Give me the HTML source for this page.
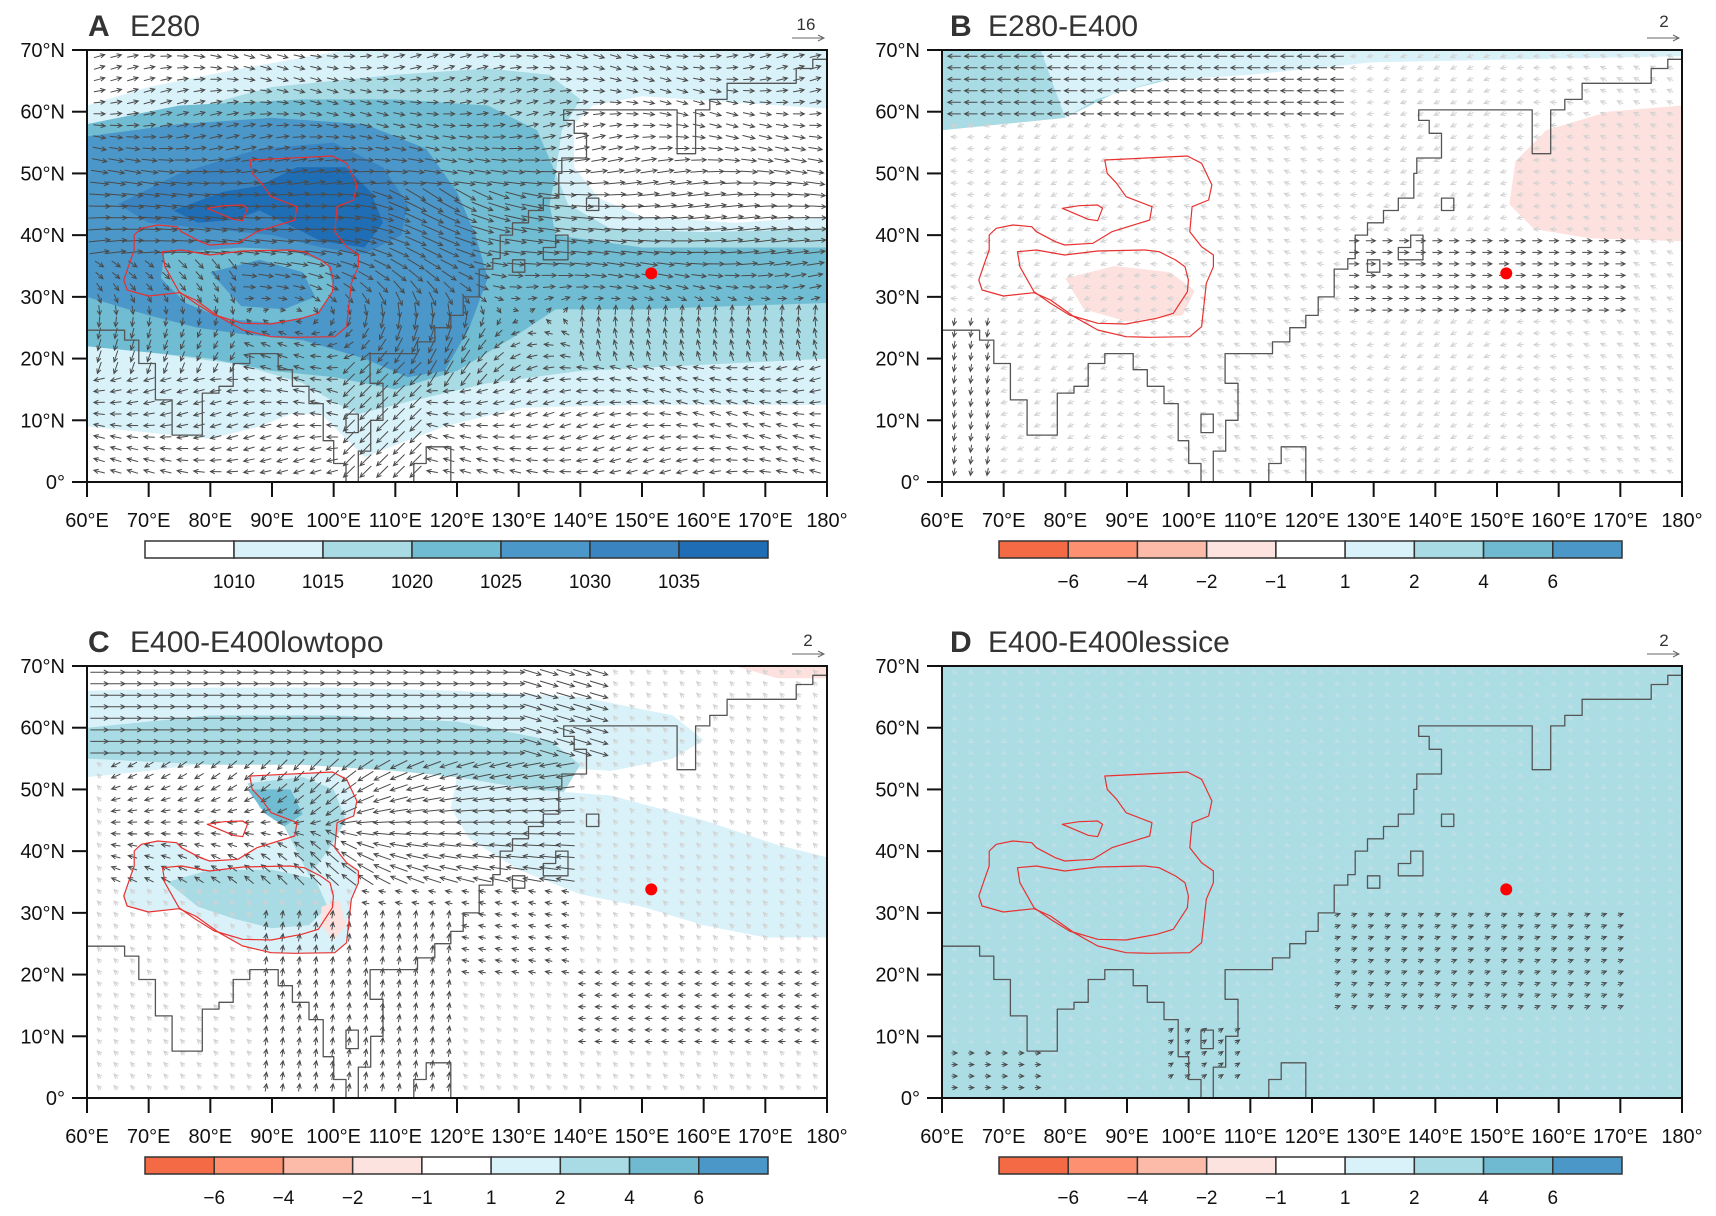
<!DOCTYPE html>
<html><head><meta charset="utf-8"><style>
html,body{margin:0;padding:0;background:#fff;}
svg{display:block;font-family:"Liberation Sans",Arial,sans-serif;}
</style></head><body>
<svg id="s" width="1716" height="1216" xmlns="http://www.w3.org/2000/svg">
<text x="88" y="36" font-size="30" font-weight="bold" fill="#333">A</text><text x="130" y="36" font-size="30" fill="#333">E280</text>
<text x="950" y="36" font-size="30" font-weight="bold" fill="#333">B</text><text x="988" y="36" font-size="30" fill="#333">E280-E400</text>
<text x="88" y="652" font-size="30" font-weight="bold" fill="#333">C</text><text x="130" y="652" font-size="30" fill="#333">E400-E400lowtopo</text>
<text x="950" y="652" font-size="30" font-weight="bold" fill="#333">D</text><text x="988" y="652" font-size="30" fill="#333">E400-E400lessice</text>
<text x="806" y="30" font-size="17" text-anchor="middle" fill="#333">16</text>
<text x="1664" y="27" font-size="17" text-anchor="middle" fill="#333">2</text>
<text x="808" y="646" font-size="17" text-anchor="middle" fill="#333">2</text>
<text x="1664" y="646" font-size="17" text-anchor="middle" fill="#333">2</text>
</svg>
<script>
var S=document.getElementById('s'),NS='http://www.w3.org/2000/svg';
function el(t,a,txt){var e=document.createElementNS(NS,t);for(var k in a)e.setAttribute(k,a[k]);if(txt!==undefined)e.textContent=txt;S.appendChild(e);return e;}
var P=[{x:87,y:50},{x:942,y:50},{x:87,y:666},{x:942,y:666}],W=740,H=432,kx=W/120,ky=H/70;
function X(p,lon){return p.x+(lon-60)*kx;}function Y(p,lat){return p.y+(70-lat)*ky;}
function poly(p,pts,fill,stroke,sw,closed){var d='';pts.forEach(function(q,i){d+=(i?'L':'M')+X(p,q[0]).toFixed(1)+' '+Y(p,q[1]).toFixed(1);});if(closed!==false)d+='Z';
 el('path',{d:d,fill:fill||'none',stroke:stroke||'none','stroke-width':sw||1,'stroke-linejoin':'round','clip-path':'url(#c'+P.indexOf(p)+')'});}
var defs=el('defs',{});
P.forEach(function(p,i){var c=document.createElementNS(NS,'clipPath');c.setAttribute('id','c'+i);var r=document.createElementNS(NS,'rect');r.setAttribute('x',p.x);r.setAttribute('y',p.y);r.setAttribute('width',W);r.setAttribute('height',H);c.appendChild(r);defs.appendChild(c);});
var L1='#d9f2fa',L2='#a8dbe4',L3='#70bcd2',L4='#4b97c9',L5='#3a85c1',L6='#1f6db4',PK='#fde1de';
function cv(a){return a.map(function(q){return [60+q[0]*120/1568,70-q[1]*70/1296];});}
var rOut=cv([[345,330],[520,318],[550,340],[572,405],[565,450],[530,470],[525,545],[550,590],[575,615],[575,650],[560,700],[550,830],[525,860],[440,862],[390,860],[330,840],[280,800],[230,750],[195,728],[130,738],[85,720],[78,690],[90,640],[100,600],[100,555],[115,535],[150,525],[190,530],[200,545],[240,575],[260,585],[320,580],[360,545],[440,510],[445,470],[390,440],[370,400],[350,370]]);
var rIn=cv([[160,605],[200,600],[260,615],[330,603],[430,600],[460,605],[495,630],[515,650],[522,690],[520,725],[490,790],[455,805],[390,822],[330,820],[270,795],[230,760],[195,725],[165,650]]);
var rSm=cv([[255,475],[290,467],[330,465],[340,475],[330,512],[310,508]]);
// Panel A
var p=P[0];
poly(p,[[60,0],[180,0],[180,70],[60,70]],L1);
poly(p,[[60,70],[102,70],[85,67],[70,64],[60,61]],'#fff');
poly(p,[[139,58],[142,61],[150,62.5],[165,61.5],[180,60.5],[180,43],[165,42],[150,43],[143,46],[139,51]],'#fff');
poly(p,[[60,0],[60,9],[70,8],[80,7],[88,9],[93,11],[98,11],[101,8],[105,4],[110,6],[118,9],[130,12],[150,12.5],[180,12.5],[180,0]],'#fff');
poly(p,[[60,55],[75,60],[90,64],[110,66],[125,67],[135,66],[140,62],[137,57],[136,50],[138,45],[145,41],[160,40.5],[180,41],[180,20],[160,19],[140,18],[125,16],[112,13],[104,11],[100,13],[95,16],[85,19],[70,21],[60,22]],L2);
poly(p,[[60,58],[75,61],[95,62],[110,62],[125,61],[133,57],[136,50],[135,45],[136,40],[150,38],[180,38],[180,29],[150,28],[136,28],[130,24],[120,18],[110,15],[100,17],[90,18],[80,20],[70,21],[60,22]],L3);
poly(p,[[60,56],[75,58],[90,59],[105,58],[115,54],[120,47],[123,40],[125,33],[122,25],[118,18],[112,17],[105,20],[95,23],[85,24],[78,25],[70,27],[60,30]],L4);
poly(p,[[65,45],[75,50],[88,54],[100,55],[108,51],[112,45],[111,40],[105,37],[98,38],[90,40],[80,41],[70,42]],L5);
poly(p,[[74,44],[82,47],[88,48],[94,51],[102,51],[106,47],[108,42],[105,38],[98,39],[92,42],[88,44],[84,42.5],[78,42]],L6);
poly(p,[[72.5,37],[78,37.5],[85,38],[93,37.6],[99,35.5],[100,31],[97,27],[90,25.8],[82,26.5],[76,29],[72,33]],L3);
poly(p,[[80,34],[88,36],[95,34],[97,30],[92,28],[85,28.5]],L4);
// Panel B
p=P[1];
poly(p,[[60,70],[135,70],[120,68],[100,66],[88,63],[80,59],[60,57]],L2);
poly(p,[[76,70],[180,70],[180,69],[130,68],[110,66],[95,65],[85,62],[80,59]],L1);
poly(p,[[180,61],[168,60],[158,57],[153,52],[152,45],[156,41],[165,39.5],[180,39]],PK);
poly(p,[[80,33],[88,35],[97,34],[101,31],[99,27],[90,26],[83,28]],PK);
// Panel C
p=P[2];
poly(p,[[60,66],[80,66.5],[100,66.5],[120,66],[140,65],[155,62],[160,58],[155,55],[145,53],[130,54],[115,55],[100,56],[85,55],[70,53],[60,52]],L1);
poly(p,[[60,60],[80,62],[100,62],[120,61],[135,58],[140,54],[137,49],[130,47],[122,48],[120,52],[110,53],[95,54],[80,54],[60,55]],L2);
poly(p,[[120,52],[132,50],[145,49],[160,45],[172,41],[180,39],[180,26],[170,26],[160,28],[150,31],[140,33],[130,37],[122,42],[119,47]],L1);
poly(p,rOut,L1);
poly(p,[[86,51],[95,52],[100,50],[102,45],[99,40],[96,36],[94,40],[92,44],[88,47]],L2);
poly(p,[[86,50],[93,50],[95,46],[92,44],[89,46]],L3);
poly(p,[[73,35],[80,37],[90,37],[97,35.5],[99,31],[96,28],[90,27.5],[84,29],[78,31]],L2);
poly(p,[[98,31],[101,32],[102,28],[100,25.5],[98,28]],PK);
poly(p,[[165,70],[180,70],[180,68],[172,68]],PK);
// Panel D
poly(P[3],[[60,0],[180,0],[180,70],[60,70]],'#acdde5');
function arrow(x,y,u,v,col,sc){var sp=Math.sqrt(u*u+v*v);if(sp<0.02)return '';var len=4+sc*sp,ux=u/sp,uy=-v/sp;
 var tx=x+ux*len/2,ty=y+uy*len/2,bx=x-ux*len/2,by=y-uy*len/2,h=5,a=0.45;
 function r(ang){return [Math.cos(ang)*ux-Math.sin(ang)*uy,Math.sin(ang)*ux+Math.cos(ang)*uy];}
 var r1=r(Math.PI-a),r2=r(Math.PI+a);
 return 'M'+bx.toFixed(1)+' '+by.toFixed(1)+'L'+tx.toFixed(1)+' '+ty.toFixed(1)+'M'+(tx+r1[0]*h).toFixed(1)+' '+(ty+r1[1]*h).toFixed(1)+'L'+tx.toFixed(1)+' '+ty.toFixed(1)+'L'+(tx+r2[0]*h).toFixed(1)+' '+(ty+r2[1]*h).toFixed(1);}
function field(pi,fn){var p=P[pi],dk='',lt='';
 for(var lat=69;lat>0;lat-=1.87)for(var lon=62;lon<180;lon+=2.7){var r=fn(lon,lat);if(!r)continue;
  var s=arrow(X(p,lon),Y(p,lat),r[0],r[1],0,r[3]||12);if(r[2])dk+=s;else lt+=s;}
 el('path',{d:lt,fill:'none',stroke:pi==3?'#c2dfe5':'#d2d2d2','stroke-width':1,'clip-path':'url(#c'+pi+')'});
 el('path',{d:dk,fill:'none',stroke:'#4a4a4a','stroke-width':1,'clip-path':'url(#c'+pi+')'});}
function g(x,c,w){return Math.exp(-Math.pow((x-c)/w,2));}
field(0,function(lon,lat){var u=Math.tanh((lat-27)/5)*(0.5+0.8*g(lat,42,10));var v=0.15*Math.sin(lon/9+lat/5);
 if(lon>95&&lon<135&&lat>15&&lat<48)v-=0.7*g(lon,115,12);if(lon<85&&lat>18&&lat<36){v-=0.4;u*=0.4;}
 if(lon>100&&lon<115&&lat<20){u=-0.6;v=-0.6;} if(lon>140&&lat>20&&lat<28){u*=0.3;v=0.4;}
 return [u,v,1,14];});
field(1,function(lon,lat){if(lat>58&&lon<125)return [-0.9,0,1,10];if(lon>125&&lon<172&&lat>26&&lat<40)return [0.7,0,1,8];
 if(lon<70&&lat<26)return [-0.1,-0.6,1,6];return [-0.4,-0.2*Math.sin(lon/10),0,6];});
field(2,function(lon,lat){if(lat>55&&lon<145)return [1,-0.1*(lon>130?3:0),1,14];
 if(lat>35&&lat<56&&lon<140&&lon>62){var dx=100-lon,dy=44-lat,d=Math.sqrt(dx*dx+dy*dy)+1;return [-0.6+0.3*dx/d,0.6*dy/d,1,16];}
 if(lon>88&&lon<120&&lat<30)return [0.1,0.6,1,6];if(lon>105&&lon<140&&lat>20&&lat<36)return [-0.5,0.1,1,6];
 if(lon>140&&lat<22&&lat>8)return [-0.5,0,1,6];return [-0.2,0.2,0,6];});
field(3,function(lon,lat){if(lon>122&&lon<172&&lat>14&&lat<31)return [0.4,0.15,1,4];if(lon<78&&lat<8)return [0.4,0,1,4];
 if(lon>95&&lon<108&&lat<12&&lat>2)return [0.3,0.2,1,4];return [0.2,-0.1,0,4];});
var coast=[[60,24.6],[66.1,24.6],[66.1,23],[68.4,23],[68.4,19.2],[71.1,19.2],[71.1,13.3],[73.8,13.3],[73.8,7.6],[78.7,7.6],[78.7,14.4],[81.4,14.4],[81.4,15.5],[83.7,15.5],[83.7,19.2],[86.4,19.2],[86.4,20.8],[91,20.8],[91,18.2],[93.3,18.2],[93.3,15.5],[96,15.5],[96,12.7],[98.3,12.7],[98.3,6.7],[100,6.7],[100,3],[102,3],[102,0]];
var coast2=[[104,0],[104,5],[106,5],[106,10],[108,10],[108,16],[105.9,16],[105.9,20.8],[113.6,20.8],[113.6,22.7],[116.4,22.7],[116.4,25],[119,25],[119,27],[121,27],[121,30],[123.6,30],[123.6,34.5],[125.8,34.5],[125.8,36.2],[127,36.2],[127,40],[129,40],[129,42],[131.6,42],[131.6,44],[134,44],[134,46],[136.5,46],[136.5,50],[137,50],[137,52.5],[141,52.5],[141,56.5],[139,56.5],[139,58.6],[137.3,58.6],[137.3,60.3],[155.7,60.3],[155.7,53.2],[158.7,53.2],[158.7,60.3],[161,60.3],[161,62],[163.8,62],[163.8,64.6],[175,64.6],[175,67],[177.7,67],[177.7,68.5],[180,68.5]];
var isl=[[[141,44],[143,44],[143,46],[141,46]],[[134,36],[138,36],[138,40],[136,40],[136,38],[134,38]],[[129,34],[131,34],[131,36],[129,36]],[[113,0],[113,3],[115,3],[115,5.7],[119,5.7],[119,0]],[[102,8],[104,8],[104,11],[102,11]]];
P.forEach(function(p,i){
 poly(p,coast,'none','#555',1.3,false);poly(p,coast2,'none','#555',1.3,false);isl.forEach(function(s){poly(p,s,'none','#555',1.3,s.length==6&&s[0][1]==0?false:true);});
 poly(p,rOut,'none','#e8312f',1.2);poly(p,rIn,'none','#e8312f',1.2);poly(p,rSm,'none','#e8312f',1.2);
 el('circle',{cx:X(p,151.5),cy:Y(p,33.8),r:6,fill:'#f00'});
 el('rect',{x:p.x,y:p.y,width:W,height:H,fill:'none',stroke:'#111','stroke-width':2});
 for(var k=0;k<=7;k++){var y=Y(p,k*10);el('line',{x1:p.x-15,y1:y,x2:p.x,y2:y,stroke:'#111','stroke-width':2});
  el('text',{x:p.x-22,y:y+7,'font-size':20,'text-anchor':'end',fill:'#111'},k?k*10+'°N':'0°');}
 for(var k=0;k<=12;k++){var x=X(p,60+k*10);el('line',{x1:x,y1:p.y+H,x2:x,y2:p.y+H+15,stroke:'#111','stroke-width':2});
  el('text',{x:x,y:p.y+H+45,'font-size':20,'text-anchor':'middle',fill:'#111'},k==12?'180°':(60+k*10)+'°E');}
 var ax=p.x+W-35,ay=p.y-12;el('path',{d:'M'+ax+' '+ay+'H'+(ax+32)+'M'+(ax+26)+' '+(ay-3)+'L'+(ax+32)+' '+ay+'L'+(ax+26)+' '+(ay+3),stroke:'#666',fill:'none','stroke-width':1});
});
function cbar(x0,x1,y,cols,labs,ly){var w=(x1-x0)/cols.length;cols.forEach(function(c,i){el('rect',{x:x0+i*w,y:y,width:w,height:17,fill:c,stroke:'#333','stroke-width':1.5});});
 labs.forEach(function(l,i){el('text',{x:x0+(i+1)*w,y:ly,'font-size':19,'text-anchor':'middle',fill:'#111'},l);});}
var DV=['#f46a45','#fc9070','#fcbba8','#fde3df','#ffffff','#d9f2fa','#a8dbe4','#6fbad1','#4a97c8'],DL=['−6','−4','−2','−1','1','2','4','6'];
cbar(145,768,541,['#ffffff',L1,L2,L3,L4,L5,L6],['1010','1015','1020','1025','1030','1035'],588);
cbar(999,1622,541,DV,DL,588);cbar(145,768,1157,DV,DL,1204);cbar(999,1622,1157,DV,DL,1204);
</script>
</body></html>
